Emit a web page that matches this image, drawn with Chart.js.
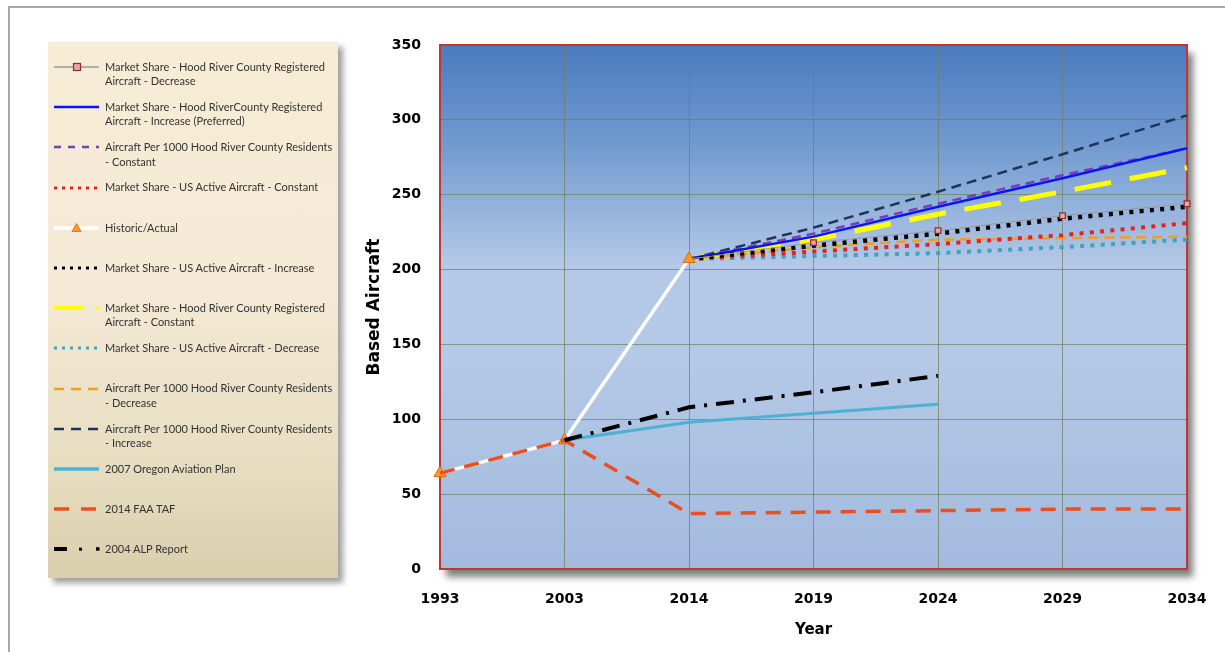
<!DOCTYPE html>
<html>
<head>
<meta charset="utf-8">
<script src="https://cdn.jsdelivr.net/npm/chart.js@4.4.1/dist/chart.umd.min.js"></script>
<style>
  html, body { margin: 0; padding: 0; background: #fff; width: 1225px; height: 652px; overflow: hidden; }
  #frame { position: absolute; left: 8px; top: 6px; width: 1240px; height: 680px;
           border-left: 2px solid #a9a9a9; border-top: 2px solid #a9a9a9; }
  #chart { position: absolute; left: 0; top: 0; }
  #legend { position: absolute; left: 48px; top: 42px; width: 290px; height: 536px;
            background: linear-gradient(180deg, #f7ecd5 0%, #f4ead6 45%, #e9dfc4 75%, #d9cfae 100%);
            box-shadow: 5px 5px 6px rgba(0,0,0,0.38);
            font-family: Lato, "Open Sans", sans-serif; font-size: 11px; color: #333; }
  .item { position: absolute; left: 0; width: 290px; }
  .item svg { position: absolute; left: 6px; top: 0; }
  .item .txt { position: absolute; left: 57px; top: 0; line-height: 14.5px; white-space: nowrap; }
</style>
</head>
<body>
<div id="frame"></div>
<canvas id="chart" width="1225" height="652"></canvas>
<div id="legend"></div>
<script>
// Based aircraft forecasts, by year
const years = ['1993', '2003', '2014', '2019', '2024', '2029', '2034'];

const historicActual   = [64, 86, 207, null, null, null, null];
const hrRegDecrease    = [null, null, 207, 218, 226, 236, 244];
const hrRegIncrease    = [null, null, 207, 222, 242, 261, 281];
const per1000Constant  = [null, null, 207, 224, 244, 263, 281];
const usActiveConstant = [null, null, 207, 212, 217, 223, 231];
const usActiveIncrease = [null, null, 207, 216, 224, 234, 242];
const hrRegConstant    = [null, null, 207, 220, 237, 252, 268];
const usActiveDecrease = [null, null, 207, 209, 211, 215, 220];
const per1000Decrease  = [null, null, 207, 215, 220, 221, 222];
const per1000Increase  = [null, null, 207, 228, 252, 277, 303];
const oregonPlan2007   = [null, 86, 98, 104, 110, null, null];
const faaTaf2014       = [64, 86, 37, 38, 39, 40, 40];
const alpReport2004    = [null, 86, 108, 118, 129, null, null];

const yMin = 0, yMax = 350, yStep = 50;

const COL = {
  gray: '#9b9b9b', squareFill: '#e8a6a6', squareEdge: '#9a2626',
  blue: '#0a14f5', purple: '#7a3cb8', red: '#e3231d', white: '#ffffff',
  triFill: '#f79a2e', triEdge: '#e0650c', black: '#000000', yellow: '#ffff00',
  teal: '#3fa3bd', orange: '#f89c1c', navy: '#1d3658', cyan: '#4db1d2', taf: '#e9501f'
};

const dotted = [4, 6.3];

const datasets = [
  { label: 'Market Share - Hood River County Registered Aircraft - Decrease', data: hrRegDecrease,
    borderColor: COL.gray, borderWidth: 1, pointStyle: 'rect',
    pointRadius: [0, 0, 0, 4, 4, 4, 4], pointBackgroundColor: COL.squareFill,
    pointBorderColor: COL.squareEdge, pointBorderWidth: 1.2, order: 5, clip: false },
  { label: 'Market Share - Hood RiverCounty Registered Aircraft - Increase (Preferred)', data: hrRegIncrease,
    borderColor: COL.blue, borderWidth: 2.5, order: 7 },
  { label: 'Aircraft Per 1000 Hood River County Residents - Constant', data: per1000Constant,
    borderColor: COL.purple, borderWidth: 2.5, borderDash: [9, 6], order: 8 },
  { label: 'Market Share - US Active Aircraft - Constant', data: usActiveConstant,
    borderColor: COL.red, borderWidth: 4, borderDash: dotted, order: 7 },
  { label: 'Historic/Actual', data: historicActual,
    borderColor: COL.white, borderWidth: 3.5, pointStyle: 'triangle', pointRadius: 7,
    pointBackgroundColor: COL.triFill, pointBorderColor: COL.triEdge, pointBorderWidth: 1,
    order: 4, clip: false },
  { label: 'Market Share - US Active Aircraft - Increase', data: usActiveIncrease,
    borderColor: COL.black, borderWidth: 4.5, borderDash: dotted, order: 6 },
  { label: 'Market Share - Hood River County Registered Aircraft - Constant', data: hrRegConstant,
    borderColor: COL.yellow, borderWidth: 5, borderDash: [37, 19], order: 10 },
  { label: 'Market Share - US Active Aircraft - Decrease', data: usActiveDecrease,
    borderColor: COL.teal, borderWidth: 4, borderDash: dotted, order: 9 },
  { label: 'Aircraft Per 1000 Hood River County Residents - Decrease', data: per1000Decrease,
    borderColor: COL.orange, borderWidth: 2.5, borderDash: [10, 6], order: 8 },
  { label: 'Aircraft Per 1000 Hood River County Residents - Increase', data: per1000Increase,
    borderColor: COL.navy, borderWidth: 2.5, borderDash: [10, 6], order: 9 },
  { label: '2007 Oregon Aviation Plan', data: oregonPlan2007,
    borderColor: COL.cyan, borderWidth: 3, order: 6 },
  { label: '2014 FAA TAF', data: faaTaf2014,
    borderColor: COL.taf, borderWidth: 3.5, borderDash: [15, 10], order: 3 },
  { label: '2004 ALP Report', data: alpReport2004,
    borderColor: COL.black, borderWidth: 4, borderDash: [18, 9, 3, 9], order: 2 }
];
datasets.forEach(d => {
  d.fill = false; d.tension = 0; d.borderCapStyle = 'butt';
  if (d.pointRadius === undefined) d.pointRadius = 0;
  d.pointHoverRadius = d.pointRadius;
});

// Plot-area backdrop: drop shadow, blue gradient, red frame
const plotBackdrop = {
  id: 'plotBackdrop',
  beforeDraw(chart) {
    const { ctx, chartArea: a } = chart;
    ctx.save();
    ctx.shadowColor = 'rgba(0,0,0,0.5)';
    ctx.shadowBlur = 7;
    ctx.shadowOffsetX = 6;
    ctx.shadowOffsetY = 8;
    const g = ctx.createLinearGradient(0, a.top, 0, a.bottom);
    g.addColorStop(0, '#4a7bc0');
    g.addColorStop(0.18, '#6f98cf');
    g.addColorStop(0.42, '#b3c9e7');
    g.addColorStop(0.6, '#b4c9e6');
    g.addColorStop(1, '#a3bade');
    ctx.fillStyle = g;
    ctx.fillRect(a.left, a.top, a.width, a.height);
    ctx.restore();
  },
  beforeDatasetsDraw(chart) {
    const { ctx, chartArea: a } = chart;
    ctx.save();
    ctx.strokeStyle = '#bf3636';
    ctx.lineWidth = 2;
    ctx.strokeRect(a.left, a.top, a.width, a.height);
    ctx.restore();
  }
};

new Chart(document.getElementById('chart'), {
  type: 'line',
  data: { labels: years, datasets },
  plugins: [plotBackdrop],
  options: {
    responsive: false,
    animation: false,
    devicePixelRatio: 1,
    layout: { padding: { left: 356, top: 45, right: 38, bottom: 13 } },
    plugins: { legend: { display: false }, tooltip: { enabled: false } },
    scales: {
      x: {
        type: 'category', offset: false,
        grid: { color: 'rgba(112,124,92,0.7)', lineWidth: 1, drawTicks: false },
        border: { display: false },
        ticks: { color: '#000', padding: 22, maxRotation: 0,
                 font: { family: 'DejaVu Sans', weight: 'bold', size: 14 } },
        title: { display: true, text: 'Year', color: '#000', padding: { top: 4, bottom: 0 },
                 font: { family: 'DejaVu Sans', weight: 'bold', size: 15 } },
        afterFit(s) { s.height = 70; s.paddingLeft = 0; s.paddingRight = 0; }
      },
      y: {
        min: yMin, max: yMax,
        grid: { color: 'rgba(112,124,92,0.7)', lineWidth: 1, drawTicks: false },
        border: { display: false },
        ticks: { stepSize: yStep, color: '#000', padding: 19,
                 font: { family: 'DejaVu Sans', weight: 'bold', size: 14 } },
        title: { display: true, text: 'Based Aircraft', color: '#000', padding: { top: 8, bottom: 4 },
                 font: { family: 'DejaVu Sans', weight: 'bold', size: 17 } },
        afterFit(s) { s.width = 84; s.paddingTop = 0; s.paddingBottom = 0; }
      }
    }
  }
});

// Side legend
const legendItems = [
  { lines: ['Market Share - Hood River County Registered', 'Aircraft - Decrease'],
    svg: `<line x1="0" y1="7" x2="45" y2="7" stroke="${COL.gray}" stroke-width="1.3"/>
          <rect x="19.5" y="3.5" width="7" height="7" fill="${COL.squareFill}" stroke="${COL.squareEdge}" stroke-width="1.2"/>` },
  { lines: ['Market Share - Hood RiverCounty Registered', 'Aircraft - Increase (Preferred)'],
    svg: `<line x1="0" y1="7" x2="45" y2="7" stroke="${COL.blue}" stroke-width="2.5"/>` },
  { lines: ['Aircraft Per 1000 Hood River County Residents', '- Constant'],
    svg: `<line x1="0" y1="7" x2="45" y2="7" stroke="${COL.purple}" stroke-width="2.5" stroke-dasharray="7 7"/>` },
  { lines: ['Market Share - US Active Aircraft - Constant'],
    svg: `<line x1="0" y1="7" x2="45" y2="7" stroke="${COL.red}" stroke-width="3" stroke-dasharray="3 5"/>` },
  { lines: ['Historic/Actual'],
    svg: `<line x1="0" y1="7" x2="45" y2="7" stroke="#fff" stroke-width="3.5"/>
          <polygon points="22.5,2.5 27,10.5 18,10.5" fill="${COL.triFill}" stroke="${COL.triEdge}" stroke-width="0.8"/>` },
  { lines: ['Market Share - US Active Aircraft - Increase'],
    svg: `<line x1="0" y1="7" x2="45" y2="7" stroke="${COL.black}" stroke-width="3" stroke-dasharray="3 5"/>` },
  { lines: ['Market Share - Hood River County Registered', 'Aircraft - Constant'],
    svg: `<line x1="0" y1="7" x2="30" y2="7" stroke="${COL.yellow}" stroke-width="4"/>
          <circle cx="44" cy="7" r="1.8" fill="${COL.yellow}"/>` },
  { lines: ['Market Share - US Active Aircraft - Decrease'],
    svg: `<line x1="0" y1="7" x2="45" y2="7" stroke="${COL.teal}" stroke-width="3" stroke-dasharray="3 5"/>` },
  { lines: ['Aircraft Per 1000 Hood River County Residents', '- Decrease'],
    svg: `<line x1="0" y1="7" x2="45" y2="7" stroke="${COL.orange}" stroke-width="2.5" stroke-dasharray="10 7"/>` },
  { lines: ['Aircraft Per 1000 Hood River County Residents', '- Increase'],
    svg: `<line x1="0" y1="7" x2="45" y2="7" stroke="${COL.navy}" stroke-width="2.5" stroke-dasharray="10 7"/>` },
  { lines: ['2007 Oregon Aviation Plan'],
    svg: `<line x1="0" y1="7" x2="45" y2="7" stroke="${COL.cyan}" stroke-width="3.5"/>` },
  { lines: ['2014 FAA TAF'],
    svg: `<line x1="0" y1="7" x2="45" y2="7" stroke="${COL.taf}" stroke-width="3.5" stroke-dasharray="15 12"/>` },
  { lines: ['2004 ALP Report'],
    svg: `<line x1="0" y1="7" x2="13" y2="7" stroke="#000" stroke-width="4"/>
          <rect x="25" y="5.7" width="3" height="3" fill="#000"/>
          <rect x="42" y="5.2" width="3.5" height="3.5" fill="#000"/>` }
];

const legendEl = document.getElementById('legend');
legendItems.forEach((it, i) => {
  const centre = 67 + i * 40.2 - 42;       // first text line centre, relative to the box
  const div = document.createElement('div');
  div.className = 'item';
  div.style.top = (centre - 7.25) + 'px';
  div.innerHTML = `<svg width="48" height="14" viewBox="0 0 48 14" style="top:0.25px">${it.svg}</svg>` +
                  `<div class="txt">${it.lines.join('<br>')}</div>`;
  legendEl.appendChild(div);
});
</script>
</body>
</html>
